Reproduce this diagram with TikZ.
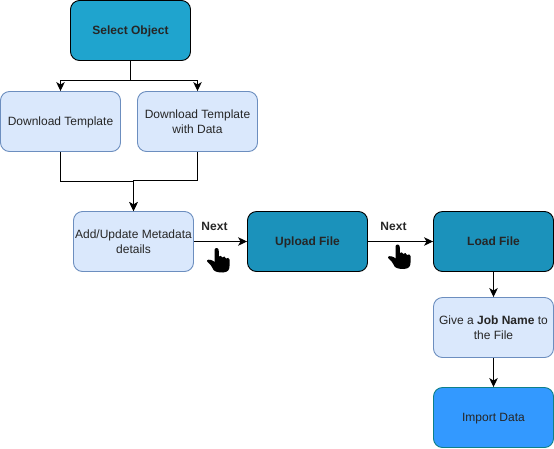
\documentclass[tikz,border=0pt]{standalone}
\usepackage{fontspec}
\setmainfont{Liberation Sans}
\usetikzlibrary{arrows.meta}
\definecolor{lightb}{HTML}{DAE8FC}
\definecolor{lightd}{HTML}{6C8EBF}
\definecolor{tealA}{HTML}{1FA4CE}
\definecolor{tealB}{HTML}{1B92BB}
\definecolor{impf}{HTML}{3399FF}
\definecolor{impd}{HTML}{0E8088}
\tikzset{
  base/.style={rounded corners=9pt,minimum width=120pt,minimum height=60pt,inner sep=1pt,align=center,font=\fontsize{12}{15}\selectfont,line width=0.9pt,text=black!85},
  light/.style={base,draw=lightd,fill=lightb},
  dark/.style={base,draw=black,font=\fontsize{12}{15}\selectfont\bfseries,text=black!85},
  oneline/.style={align=none,text height=10pt,text depth=1.6pt},
  conn/.style={draw=black,line width=1pt,-{Stealth[length=9pt,width=8.5pt,inset=2.5pt]}},
  plainline/.style={draw=black,line width=1pt},
  lbl/.style={font=\fontsize{12}{15}\selectfont\bfseries,inner sep=0pt,text=black!85},
}
\newcommand{\handicon}[1]{%
  \fill[black,shift={(#1)}] (-4.5,-11) -- (-4.5,1)
   .. controls (-5.5,-0.5) and (-11,-2.5) .. (-12,-0.5)
   .. controls (-12.8,1) and (-8,3) .. (-6.5,7)
   .. controls (-5.5,10.5) and (-2,11.5) .. (4,11.5)
   .. controls (9,11) and (10.5,9) .. (10.5,5)
   -- (10.5,-1.5)
   .. controls (10.5,-3.5) and (8,-3.5) .. (7.2,-2.5)
   .. controls (6.5,-5) and (4,-5) .. (3.5,-3.5)
   .. controls (3,-5.5) and (0.5,-5.5) .. (0,-4.5)
   -- (-0.3,-11)
   .. controls (-0.5,-13.6) and (-4.5,-13.6) .. (-4.5,-11) -- cycle;
}
\begin{document}
\begin{tikzpicture}[x=1pt,y=-1pt]
\useasboundingbox (0,0) rectangle (554,448);
\node[dark,oneline,fill=tealA] (sel) at (130.5,30.5) {Select Object};
\node[light,oneline] (dt) at (60.5,121.5) {Download Template};
\node[light] (dtd) at (197.5,121.5) {Download Template\\with Data};
\node[light] (meta) at (133.5,241.5) {Add/Update Metadata\\details};
\node[dark,oneline,fill=tealB] (up) at (307.5,241.5) {Upload File};
\node[dark,oneline,fill=tealB] (load) at (493.5,241.5) {Load File};
\node[light] (job) at (493.5,327.5) {Give a \textbf{Job Name} to\\the File};
\node[base,oneline,draw=impd,fill=impf] (imp) at (493.5,417.5) {Import Data};
\coordinate (split) at (130.5,80.5);
\coordinate (joinA) at (133.5,181.5);
\coordinate (joinB) at (133.5,180);
\draw[plainline] (sel.south) -- (split);
\draw[conn] (split) -| (dt.north);
\draw[conn] (split) -| (dtd.north);
\draw[conn] (dt.south) |- (joinA) -- (meta.north);
\draw[conn] (dtd.south) |- (joinB) -- (meta.north);
\draw[conn] (meta.east) -- (up.west);
\draw[conn] (up.east) -- (load.west);
\draw[conn] (load.south) -- (job.north);
\draw[conn] (job.south) -- (imp.north);
\node[lbl] (n1) at (214.5,226) {Next};
\node[lbl] (n2) at (393.5,226) {Next};
\handicon{219,261}
\handicon{400,257.5}
\end{tikzpicture}
\end{document}
